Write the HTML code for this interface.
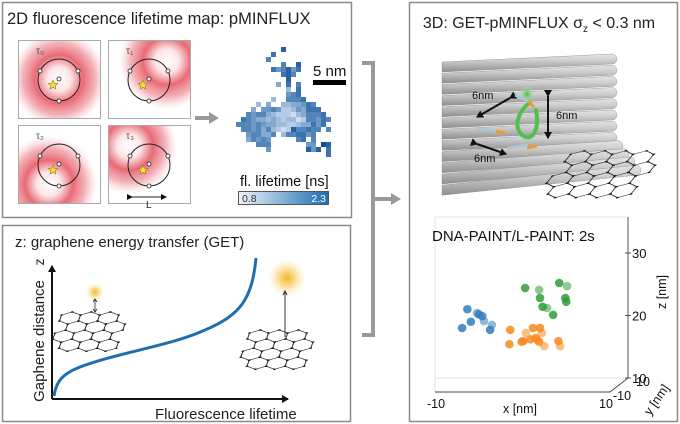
<!DOCTYPE html>
<html><head><meta charset="utf-8">
<style>
html,body{margin:0;padding:0;background:#fff;}
body{width:680px;height:424px;overflow:hidden;position:relative;font-family:"Liberation Sans",sans-serif;}
svg{position:absolute;left:0;top:0;}
</style></head>
<body>
<svg id="fig" width="680" height="424" viewBox="0 0 680 424" xmlns="http://www.w3.org/2000/svg">
<defs>
  <radialGradient id="donut" cx="0.5" cy="0.5" r="0.5">
    <stop offset="0" stop-color="#fff" stop-opacity="1"/>
    <stop offset="0.25" stop-color="#fce6e8"/>
    <stop offset="0.5" stop-color="#e96a75"/>
    <stop offset="0.75" stop-color="#ee8f97" stop-opacity="0.7"/>
    <stop offset="1" stop-color="#f6c2c6" stop-opacity="0"/>
  </radialGradient>
  <linearGradient id="cbar" x1="0" x2="1" y1="0" y2="0">
    <stop offset="0" stop-color="#eef3fa"/>
    <stop offset="1" stop-color="#1b6db3"/>
  </linearGradient>
  <radialGradient id="glow" cx="0.5" cy="0.5" r="0.5">
    <stop offset="0" stop-color="#f7b52a"/>
    <stop offset="0.4" stop-color="#f9cf6a" stop-opacity="0.8"/>
    <stop offset="1" stop-color="#fde7b0" stop-opacity="0"/>
  </radialGradient>
  <radialGradient id="gglow" cx="0.5" cy="0.5" r="0.5">
    <stop offset="0" stop-color="#3bbf3b"/>
    <stop offset="1" stop-color="#bfe8bf" stop-opacity="0"/>
  </radialGradient>
  <linearGradient id="tube" x1="0" x2="0" y1="0" y2="1">
    <stop offset="0" stop-color="#e4e4e4"/>
    <stop offset="0.35" stop-color="#cfcfcf"/>
    <stop offset="1" stop-color="#8e8e8e"/>
  </linearGradient>
  <marker id="ah" markerWidth="6" markerHeight="6" refX="5" refY="3" orient="auto" markerUnits="strokeWidth">
    <path d="M0,0 L6,3 L0,6 z" fill="#111"/>
  </marker>
  <marker id="ahs" markerWidth="8" markerHeight="8" refX="6" refY="4" orient="auto" markerUnits="userSpaceOnUse">
    <path d="M0,0 L7,4 L0,8 z" fill="#111"/>
  </marker>
  <clipPath id="b1"><rect x="18" y="40" width="82" height="78"/></clipPath>
  <clipPath id="b2"><rect x="108" y="40" width="82" height="78"/></clipPath>
  <clipPath id="b3"><rect x="18" y="125" width="82" height="79"/></clipPath>
  <clipPath id="b4"><rect x="108" y="125" width="82" height="79"/></clipPath>
  <clipPath id="p3"><rect x="411" y="3" width="266" height="418"/></clipPath>
</defs>

<!-- Panel frames -->
<rect x="2.5" y="2.5" width="349" height="215" fill="none" stroke="#8a8a8a" stroke-width="1.5"/>
<rect x="2.5" y="225.5" width="348" height="196" fill="none" stroke="#8a8a8a" stroke-width="1.5"/>
<rect x="409.5" y="2.5" width="268" height="419" fill="none" stroke="#8a8a8a" stroke-width="1.5"/>

<!-- Bracket -->
<path d="M362,63 H373 V335 H362" fill="none" stroke="#999" stroke-width="4"/>
<path d="M373,199 H392" stroke="#999" stroke-width="4"/>
<path d="M391,193 L401,199 L391,205 z" fill="#999"/>

<!-- Panel 1 -->
<text x="7" y="24" font-size="16.5" fill="#222">2D fluorescence lifetime map: pMINFLUX</text>
<g id="boxes"></g>
<path d="M195,118 H210" stroke="#999" stroke-width="4"/>
<path d="M209,112 L219,118 L209,124 z" fill="#999"/>
<g id="heatmap"></g>
<text x="313" y="76" font-size="15" fill="#111">5 nm</text>
<rect x="313" y="80" width="33" height="5" fill="#000"/>
<text x="240" y="186" font-size="14.5" fill="#111">fl. lifetime [ns]</text>
<rect x="238.5" y="191.5" width="90" height="13" fill="url(#cbar)" stroke="#555" stroke-width="1"/>
<text x="242" y="202" font-size="10.5" fill="#333">0.8</text>
<text x="326" y="202" font-size="10.5" fill="#fff" text-anchor="end">2.3</text>

<!-- Panel 2 -->
<text x="15" y="247" font-size="15" fill="#222">z: graphene energy transfer (GET)</text>
<path d="M52,399 V266" stroke="#111" stroke-width="2" marker-end="url(#ahs)"/>
<path d="M52,399 H288" stroke="#111" stroke-width="2" marker-end="url(#ahs)"/>
<text x="0" y="0" font-size="15" fill="#222" text-anchor="middle" transform="translate(44,341) rotate(-90)">Gaphene distance</text>
<text x="0" y="0" font-size="14" fill="#222" text-anchor="middle" transform="translate(44,262) rotate(-90)">z</text>
<text x="155" y="419" font-size="15" fill="#222">Fluorescence lifetime</text>
<path d="M54,396 C56,382 62,374 80,367 C120,352 170,346 205,330 C240,315 252,300 256,258" fill="none" stroke="#1f6fb0" stroke-width="3"/>
<g id="gr1"></g>
<g id="gr2"></g>
<circle cx="95" cy="292" r="9" fill="url(#glow)"/>
<path d="M95,300 V311" stroke="#222" stroke-width="0.8"/>
<path d="M93,302 L95,299 L97,302 M93,309 L95,312 L97,309" stroke="#222" stroke-width="0.8" fill="none"/>
<circle cx="287" cy="278" r="19" fill="url(#glow)"/>
<path d="M285,337 V292" stroke="#222" stroke-width="0.9"/>
<path d="M283,295 L285,291 L287,295" stroke="#222" stroke-width="0.9" fill="none"/>

<!-- Panel 3 -->
<text x="539" y="28" font-size="16" fill="#222" text-anchor="middle">3D: GET-pMINFLUX σ<tspan font-size="10" dy="4">z</tspan><tspan dy="-4"> &lt; 0.3 nm</tspan></text>
<g id="origami"></g>
<g clip-path="url(#p3)"><g id="gr3"></g></g>
<g>
  <path d="M510,98 L477,117" stroke="#111" stroke-width="2" marker-start="url(#ahs)" marker-end="url(#ahs)"/>
  <path d="M477,144 L506,154" stroke="#111" stroke-width="2" marker-start="url(#ahs)" marker-end="url(#ahs)"/>
  <path d="M548,96 V138" stroke="#111" stroke-width="2" marker-start="url(#ahs)" marker-end="url(#ahs)"/>
  <text x="472" y="99" font-size="11" fill="#111">6nm</text>
  <text x="474" y="162" font-size="11" fill="#111">6nm</text>
  <text x="556" y="119" font-size="11" fill="#111">6nm</text>
  <circle cx="527" cy="94" r="8" fill="url(#gglow)"/>
  <path d="M530,102 C520,110 512,125 522,135 C532,143 540,130 536,110" fill="none" stroke="#4ec24e" stroke-width="4" stroke-linecap="round"/>
  <path d="M515,95 L532,103" stroke="#a9c7d8" stroke-width="3"/>
  <path d="M528,101 L534,107" stroke="#f39a2b" stroke-width="3"/>
  <path d="M476,128 L500,132" stroke="#a9c7d8" stroke-width="3"/>
  <path d="M496,131 L505,133" stroke="#f39a2b" stroke-width="3"/>
  <path d="M508,148 L528,145" stroke="#a9c7d8" stroke-width="3"/>
  <path d="M527,148 L537,146" stroke="#f39a2b" stroke-width="3"/>
</g>

<!-- Scatter -->
<g>
  <path d="M435,217 L628,217 M435,217 L435,378 L628,378 M435,378 L435,392" fill="none" stroke="#ddd" stroke-width="0.8"/>
  <path d="M435,392 L610,392 L628,378 L628,217" fill="none" stroke="#444" stroke-width="0.9"/>
  <text x="432" y="241" font-size="15" fill="#111">DNA-PAINT/L-PAINT: 2s</text>
  <g id="ticks"></g>
  <text x="520" y="413" font-size="12.5" fill="#111" text-anchor="middle">x [nm]</text>
  <text x="0" y="0" font-size="12.5" fill="#111" text-anchor="middle" transform="translate(666,292) rotate(-90)">z [nm]</text>
  <text x="0" y="0" font-size="12.5" fill="#111" text-anchor="middle" transform="translate(660,402) rotate(-55)">y [nm]</text>
  <g id="points"></g>
</g>
</svg>

<script>
// ---- scatter data (x, z in nm) ----
const blueX = [-6.3,-5.2,-4.6,-5.0,-4.4,-5.9,-6.9,-3.5,-3.7];
const blueZ = [21.0,20.4,19.9,20.2,19.1,19.0,18.0,18.5,17.7];
const greenX = [0.3,1.9,2.0,2.3,2.8,3.5,4.2,5.1,4.9,5.0];
const greenZ = [24.4,24.1,22.8,21.4,21.2,20.1,25.2,24.7,22.8,22.2];
const orangeX = [-1.4,0.4,1.2,2.0,2.2,0.1,0.9,1.7,1.9,1.5,2.5,-1.5,4.1,4.3,-0.1];
const orangeZ = [17.7,17.2,18.0,18.0,17.2,15.9,16.2,16.1,15.8,16.4,15.1,15.4,15.9,15.1,15.8];
const xTicks = ["-10","10"];
const zTicks = [30,20,10];
// ---- heatmap data: lifetime levels 1..9 (0 = empty) ----
const heatRows = [
"00000000000000000000000",
"00000000000800000000000",
"00000000070000000000000",
"00000000600000000000000",
"00000000000600800000000",
"00000000075685700000000",
"00000000000786000000000",
"00000000000080000000000",
"00000000004070600000000",
"00000000000030700000000",
"00000000000056700000000",
"00000000030066670000000",
"00000030400334457600000",
"00000405565223547770000",
"00006566432221346667000",
"00076544343233126657600",
"00666565443322344757000",
"00066564632128667660600",
"00005664460366775600000",
"00004656500000670600000",
"00000066600000005509800",
"00000000500000008580700",
"00000000000000000000700"
];

const NS='http://www.w3.org/2000/svg';
function mk(tag, attrs, parent){const e=document.createElementNS(NS,tag);for(const k in attrs)e.setAttribute(k,attrs[k]);parent.appendChild(e);return e;}

// axis functions
function xs(v){return 435+(v+10)/20*175;}
function zs(v){return 378-(v-10)/20*125;}

const pts=document.getElementById('points');
function series(X,Z,col,name){
  for(let i=0;i<X.length;i++){
    const c=mk('circle',{cx:xs(X[i]),cy:zs(Z[i]),r:4.3,fill:col,'fill-opacity':(i%3==1?0.55:0.85)},pts);
    
    
  }
}
series(blueX,blueZ,'#2f7fbf','point-blue');
series(greenX,greenZ,'#2e9e37','point-green');
series(orangeX,orangeZ,'#f7891f','point-orange');

const tk=document.getElementById('ticks');
zTicks.forEach(t=>{
  mk('path',{d:'M625,'+zs(t)+' H631',stroke:'#444','stroke-width':0.9},tk);
  const tx=mk('text',{x:632,y:zs(t)+5,'font-size':13,fill:'#111'},tk);tx.textContent=String(t);
  
  
});
[[-10,'start',-8],[10,'end',0]].forEach((p,i)=>{
  const tx=mk('text',{x:xs(p[0])+p[2]+(i==0?0:-4),y:408,'font-size':12.5,fill:'#111','text-anchor':i==0?'start':'middle'},tk);
  tx.textContent=xTicks[i];
  
  
});
[['10',636,386],['-10',613,400]].forEach(p=>{
  const tx=mk('text',{x:p[1],y:p[2],'font-size':12.5,fill:'#111'},tk);tx.textContent=p[0];
  
  
});

// heatmap
const hm=document.getElementById('heatmap');
function lifeColor(l){const t=(l-1)/8;const a=[205,222,242],b=[12,80,150];return 'rgb('+a.map((v,i)=>Math.round(v+(b[i]-v)*t)).join(',')+')';}
heatRows.forEach((row,r)=>{
  for(let c=0;c<row.length;c++){
    const l=+row[c]; if(!l) continue;
    const cell=mk('rect',{x:226+c*5,y:42+r*5,width:5,height:5,fill:lifeColor(l)},hm);
    
    
  }
});

// four donut boxes
const bx=document.getElementById('boxes');
const boxes=[[18,40,0,0,'τ₀'],[108,40,18,-18,'τ₁'],[18,125,-10,20,'τ₂'],[108,125,-20,-18,'τ₃']];
boxes.forEach((b,i)=>{
  const g=mk('g',{},bx);
  
  
  const cg=mk('g',{'clip-path':'url(#b'+(i+1)+')'},g);
  const cx=b[0]+41, cy=b[1]+39;
  mk('circle',{cx:cx+b[2],cy:cy+b[3],r:48,fill:'url(#donut)'},cg);
  mk('rect',{x:b[0]+0.5,y:b[1]+0.5,width:82,height:78,fill:'none',stroke:'#aaa','stroke-width':1},g);
  mk('circle',{cx:cx,cy:cy+1,r:21,fill:'none',stroke:'#222','stroke-width':1},g);
  [[-19,-9],[19,-9],[0,21],[0,-1]].forEach(d=>mk('circle',{cx:cx+d[0],cy:cy+1+d[1],r:2,fill:'#fff',stroke:'#222','stroke-width':0.8},g));
  const sx=cx-6, sy=cy+6; let d='';
  for(let k=0;k<10;k++){const a=-Math.PI/2+k*Math.PI/5, rr=k%2?2.2:5; d+=(k?'L':'M')+(sx+rr*Math.cos(a)).toFixed(1)+','+(sy+rr*Math.sin(a)).toFixed(1);}
  mk('path',{d:d+'z',fill:'#f5e23a',stroke:'#9a7a10','stroke-width':0.6},g);
  const t=mk('text',{x:b[0]+18,y:b[1]+14,'font-size':10,fill:'#555'},g);t.textContent=b[4];
  if(i==3){
    mk('path',{d:'M'+(cx-17)+','+(b[1]+72)+' H'+(cx+17),stroke:'#222','stroke-width':1,'marker-start':'url(#ah)','marker-end':'url(#ah)'},g);
    const L=mk('text',{x:cx-3,y:b[1]+83,'font-size':10,fill:'#222'},g);L.textContent='L';
  }
});

// graphene lattices (skewed hex grids)
function graphene(id,x0,y0,w,h,s,skew,sy){
  const g=document.getElementById(id);
  const gg=mk('g',{transform:'translate('+x0+','+y0+') skewX('+skew+') scale(1,'+sy+')'},g);
  const hw=s*Math.sqrt(3)/2;
  let d='';
  for(let r=0;r*s*1.5<h/sy;r++){
    for(let c=0;c*2*hw<w;c++){
      const cx=c*2*hw+(r%2?hw:0), cy=r*s*1.5;
      const pts=[];for(let k=0;k<6;k++){const a=Math.PI/6+k*Math.PI/3;pts.push([cx+s*Math.cos(a),cy+s*Math.sin(a)]);}
      d+='M'+pts.map(p=>p[0].toFixed(1)+','+p[1].toFixed(1)).join('L')+'z';
      pts.forEach(p=>mk('circle',{cx:p[0],cy:p[1],r:1.4,fill:'#222'},gg));
    }
  }
  mk('path',{d:d,fill:'none',stroke:'#222','stroke-width':1},gg);
}
graphene('gr1',70,318,55,32,11,-20,0.55);
graphene('gr2',258,336,55,32,11,-20,0.55);

// origami tubes
const og=document.getElementById('origami');
for(let i=0;i<12;i++){
  const y=62+i*11.2;
  const xr=i<8?612:612+(i-7)*6;
  const yr=y-8-(i>7?(i-7)*3:0);
  const yl=y;
  const g=mk('g',{},og);
  
  
  mk('path',{d:'M442,'+yl+' L'+xr+','+yr+' A5,5 0 0 1 '+xr+','+(yr+10)+' L442,'+(yl+10)+' z',fill:'url(#tube)',stroke:'#8a8a8a','stroke-width':0.4},g);
}
graphene('gr3',578,158,70,42,12,-40,0.6);
</script>
</body></html>
